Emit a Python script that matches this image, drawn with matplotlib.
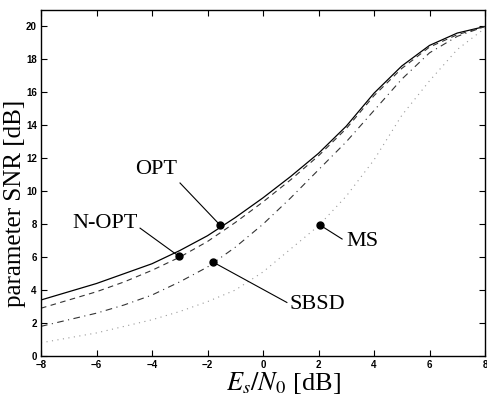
import matplotlib
matplotlib.use("Agg")
import matplotlib.pyplot as plt
import numpy as np

x = [-8, -7, -6, -5, -4, -3, -2, -1, 0, 1, 2, 3, 4, 5, 6, 7, 8]
opt = [3.4, 3.9, 4.4, 5.0, 5.6, 6.4, 7.3, 8.4, 9.6, 10.9, 12.3, 13.95, 15.95, 17.6, 18.85, 19.6, 20.0]
nopt = [2.9, 3.4, 3.9, 4.5, 5.2, 6.0, 6.95, 8.1, 9.35, 10.7, 12.15, 13.8, 15.8, 17.45, 18.75, 19.5, 20.0]
sbsd = [1.8, 2.2, 2.6, 3.1, 3.7, 4.5, 5.4, 6.6, 8.0, 9.6, 11.3, 13.0, 14.9, 16.8, 18.4, 19.4, 20.0]
ms = [0.8, 1.1, 1.4, 1.8, 2.2, 2.7, 3.3, 4.0, 5.1, 6.5, 7.9, 9.7, 11.9, 14.6, 16.7, 18.6, 19.9]

labels = ["OPT", "N-OPT", "SBSD", "MS"]
dots = [(-1.55, 7.95), (-3.03, 6.05), (-1.8, 5.7), (2.05, 7.95)]
text_pos = [(-3.86, 11.3), (-5.69, 8.05), (1.95, 3.1), (3.57, 6.97)]
line_end = [(-2.99, 10.5), (-4.43, 7.76), (0.86, 3.25), (2.85, 7.1)]

plt.rcParams['mathtext.fontset'] = 'stix'
fig = plt.figure(figsize=(4.87, 4.0), dpi=100)
ax = fig.add_axes([0.0842, 0.11, 0.9117, 0.865])

ax.plot(x, opt, color='black', lw=0.9, ls='-')
ax.plot(x, nopt, color='#333333', lw=0.8, ls=(0, (5, 4)))
ax.plot(x, sbsd, color='#333333', lw=0.8, ls=(0, (6, 4, 1, 4)))
ax.plot(x, ms, color='#999999', lw=0.8, ls=(0, (1, 4)))

for lab, d, t, e in zip(labels, dots, text_pos, line_end):
    ax.plot([d[0]], [d[1]], 'o', color='black', ms=5)
    ax.plot([d[0], e[0]], [d[1], e[1]], color='black', lw=0.8)
    ax.text(t[0], t[1], lab, ha='center', va='center', fontsize=16,
            family='Liberation Serif')

ax.set_xlim(-8, 8)
ax.set_ylim(0, 21)
ax.set_xticks(np.arange(-8, 9, 2))
ax.set_yticks(np.arange(0, 21, 2))
ax.tick_params(direction='in', top=True, right=True, length=4, width=0.8,
               labelsize=7, pad=3)
for lbl in ax.get_xticklabels() + ax.get_yticklabels():
    lbl.set_family('Liberation Sans')
    lbl.set_fontweight('bold')
for s in ax.spines.values():
    s.set_linewidth(1.0)

ax.set_xlabel(r'$E_s/N_0$ [dB]', fontsize=19, family='Liberation Serif')
ax.set_ylabel('parameter SNR [dB]', fontsize=18, family='Liberation Serif')
ax.xaxis.set_label_coords(0.547, -0.04)
ax.yaxis.set_label_coords(-0.034, 0.44)

fig.savefig('out.png', dpi=100)
